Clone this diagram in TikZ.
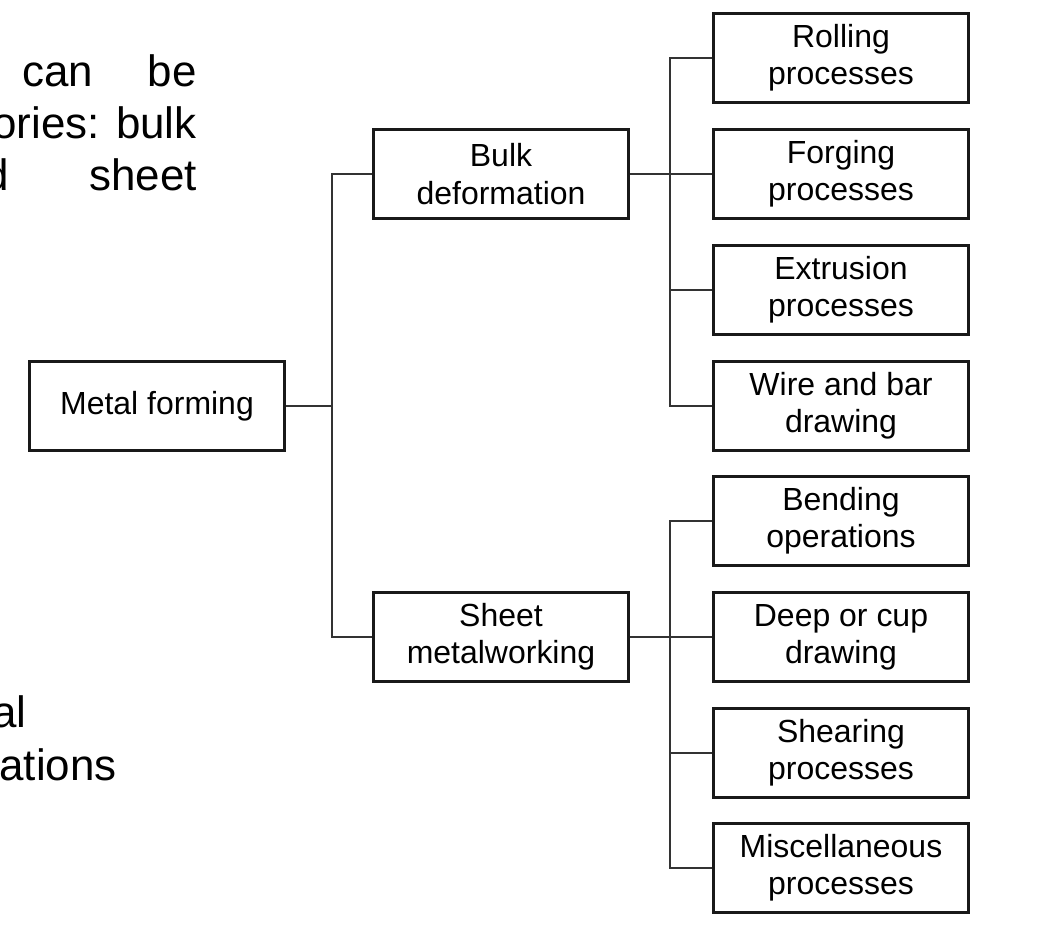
\documentclass[tikz,border=0pt]{standalone}
\usepackage{fontspec}
\setmainfont{Liberation Sans}
\usepackage{tikz}
\usetikzlibrary{positioning,calc}
\tikzset{
  pbox/.style={rectangle,draw=black!90,line width=2.2pt,minimum width=5.1cm,minimum height=1.78cm,inner sep=2pt,align=center,font=\fontsize{18.2}{21.2}\selectfont},
  conn/.style={draw=black!80,line width=0.9pt},
  slide/.style={inner sep=0pt,font=\fontsize{25}{30}\selectfont}
}

\begin{document}
\begin{tikzpicture}[x=0.02cm,y=-0.02cm]
\useasboundingbox (0,0) rectangle (1049,930);
\clip (0,0) rectangle (1049,930);
% slide text cut off at the left
\node[slide,anchor=base west] (t1a) at (22,86)  {can};
\node[slide,anchor=base east] (t1b) at (197,86) {be};
\node[slide,anchor=base east] (t2)  at (197,138) {ories: bulk};
\node[slide,anchor=base east] (t3a) at (9,190)  {d};
\node[slide,anchor=base east] (t3b) at (197,190) {sheet};
\node[slide,anchor=base east] (t4)  at (27,727) {al};
\node[slide,anchor=base east] (t5)  at (117,780) {ations};
% tree
\node[pbox] (MF) at (157,406)   {Metal forming};
\node[pbox] (BD) at (501,174)   {Bulk\\deformation};
\node[pbox] (SM) at (501,637)   {Sheet\\metalworking};
\node[pbox] (RP) at (841,58)    {Rolling\\processes};
\node[pbox] (FP) at (841,174)   {Forging\\processes};
\node[pbox] (EP) at (841,290)   {Extrusion\\processes};
\node[pbox] (WB) at (841,406)   {Wire and bar\\drawing};
\node[pbox] (BO) at (841,521)   {Bending\\operations};
\node[pbox] (DC) at (841,637)   {Deep or cup\\drawing};
\node[pbox] (SP) at (841,753)   {Shearing\\processes};
\node[pbox] (MP) at (841,868)   {Miscellaneous\\processes};
\coordinate (jm) at (332,406);
\coordinate (jb) at (670,174);
\coordinate (js) at (670,637);
\draw[conn] (MF) -- (jm);
\draw[conn] (BD.west) -| (jm) |- (SM.west);
\draw[conn] (BD) -- (FP);
\draw[conn] (RP.west) -| (jb) |- (WB.west);
\draw[conn] (jb) |- (EP.west);
\draw[conn] (SM) -- (DC);
\draw[conn] (BO.west) -| (js) |- (MP.west);
\draw[conn] (js) |- (SP.west);
\end{tikzpicture}
\end{document}
